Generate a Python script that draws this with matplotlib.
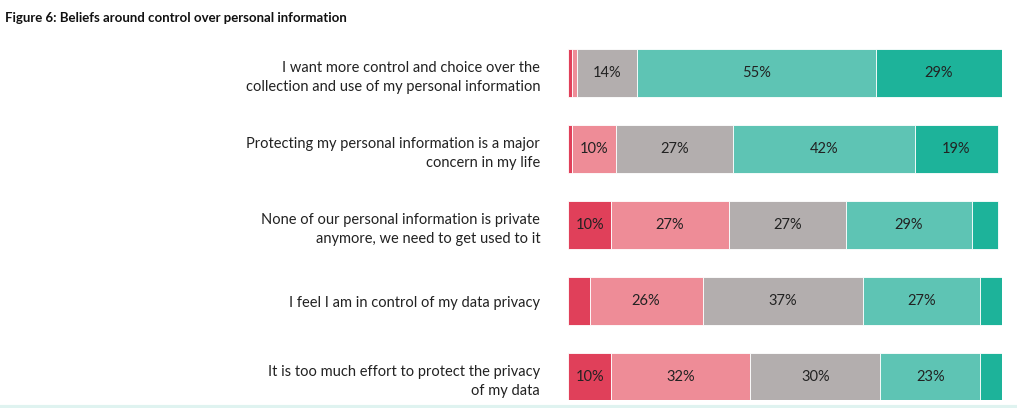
import numpy as np
import matplotlib.pyplot as plt

plt.rcParams['font.family'] = 'Lato'

# Statements (top to bottom)
statements = [
    "I want more control and choice over the\ncollection and use of my personal information",
    "Protecting my personal information is a major\nconcern in my life",
    "None of our personal information is private\nanymore, we need to get used to it",
    "I feel I am in control of my data privacy",
    "It is too much effort to protect the privacy\nof my data",
]

# Response shares (%) per segment, left to right
strongly_disagree = [1, 1, 10, 5, 10]
disagree = [1, 10, 27, 26, 32]
neutral = [14, 27, 27, 37, 30]
agree = [55, 42, 29, 27, 23]
strongly_agree = [29, 19, 6, 5, 5]

series = [strongly_disagree, disagree, neutral, agree, strongly_agree]
colors = ['#e0405a', '#ee8c97', '#b3aeae', '#5ec4b4', '#1db39a']

fig = plt.figure(figsize=(10.17, 4.08), dpi=100)
ax = fig.add_axes([568 / 1017, 1 - 400 / 408, 434 / 1017, 365 / 408])

y = np.arange(len(statements))
left = np.zeros(len(statements))
for vals, col in zip(series, colors):
    vals = np.array(vals, dtype=float)
    ax.barh(y, vals, left=left, height=0.63, color=col, edgecolor='white', linewidth=0.6)
    for yi, l, v in zip(y, left, vals):
        if v >= 10:
            ax.text(l + v / 2, yi, f"{int(v)}%", ha='center', va='center',
                    fontsize=10.5, color='#222222')
    left += vals

ax.set_xlim(0, left.max())
ax.set_ylim(4.3, -0.5)
ax.set_yticks(y)
ax.set_yticklabels(statements, fontsize=10.5, color='#222222', linespacing=1.5)
ax.tick_params(axis='y', length=0, pad=20)
ax.set_xticks([])
for s in ax.spines.values():
    s.set_visible(False)

fig.text(5 / 1017, 1 - 18 / 408, "Figure 6: Beliefs around control over personal information",
         fontsize=9.5, fontweight='bold', va='center', ha='left', color='#111111')
fig.add_artist(plt.Line2D([0, 1], [0.003, 0.003], color='#dff3f0', linewidth=3))

fig.savefig('out.png', dpi=100)
